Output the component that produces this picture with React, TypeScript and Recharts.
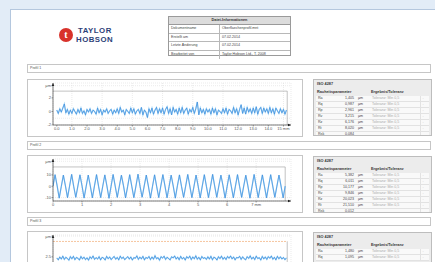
import React from 'react';
import {
  LineChart,
  Line,
  XAxis,
  YAxis,
  CartesianGrid,
  ReferenceLine,
  ReferenceDot
} from 'recharts';

// header table
const infoTitle = 'Datei-Informationen';
const infoLabels = ['Dokumentname', 'Erstellt am', 'Letzte Änderung', 'Bearbeitet von'];
const infoValues = ['Oberflaechenprofil.mnt', '07.02.2014', '07.02.2014', 'Taylor Hobson Ltd., T. 2008'];

const sectionNames = ['Profil 1', 'Profil 2', 'Profil 3'];

// roughness table
const tableTitle = 'ISO 4287';
const tableHead = ['Rauheitsparameter', 'Ergebnis/Toleranz'];
const params = ['Ra', 'Rq', 'Rp', 'Rv', 'Rz', 'Rt', 'Rsk'];
const units = ['µm', 'µm', 'µm', 'µm', 'µm', 'µm', ''];
const values1 = ['1,405', '0,987', '2,961', '3,215', '6,176', '8,020', '0,084'];
const values2 = ['5,382', '6,011', '10,177', '9,846', '20,023', '21,510', '0,012'];
const values3 = ['1,480', '1,095', '3,104', '2,870', '5,974', '7,412', '0,120'];
const tolerance = 'Toleranz: Min 0,5';

// profile 1 (mm, µm), sampled every 0.1 mm
const profile1 = [
  0.2, -0.3, 0.4, -0.1, 0.5, 1.1, -0.2, 0.3, -0.4, 0.2,
  -0.3, 0.4, 0.0, -0.4, 0.3, -0.2, 0.5, -0.3, 0.1, -0.5,
  0.3, -0.1, 0.4, -0.3, 0.2, 0.0, -0.4, 0.5, -0.2, 0.3,
  -0.5, 0.2, -0.1, 0.4, -0.3, 0.1, 0.3, -0.4, 0.2, -0.2,
  0.4, -0.3, 0.6, -0.1, 0.2, -0.5, 0.3, 0.0, -0.3, 0.5,
  -0.2, 0.4, -0.4, 0.1, 0.3, -0.3, 0.6, -0.5, 0.2, -0.1,
  -0.9, 0.4, -0.2, 0.5, -0.4, 0.2, 0.6, -0.3, 0.4, -0.2,
  0.5, -0.4, 0.3, 0.7, -0.3, 0.4, -0.5, 0.6, -0.1, 0.3,
  -0.4, 0.5, -0.2, 0.6, -0.3, 0.2, 0.5, -0.4, 0.3, -0.1,
  0.6, -0.3, 0.4, 1.4, -0.5, 0.5, -0.2, 0.3, -0.4, 0.4,
  -0.1, 0.3, -0.4, 0.5, -0.2, 0.4, -0.5, 0.2, 0.0, -0.3,
  0.4, -0.2, 0.5, -0.4, 0.3, 0.1, -0.3, 0.6, -0.2, 0.4,
  -0.5, 0.3, 1.0, -0.3, 0.5, -0.4, 0.6, -0.1, 0.4, -0.3,
  0.5, -0.2, 0.7, -0.4, 0.3, 0.6, -0.3, 0.5, -0.1, 0.4,
  -0.3, 0.6, -0.2, 0.4, -0.4, 0.5, 0.1, -0.3, 0.4, -0.2,
  0.3, -0.4, 0.2
];
const step1 = 0.1;

// profile 2, periodic surface, 4 samples per period
const profile2 = [
  0, 10.2, 0.4, -10.5, -0.2, 9.8, 0.3, -10.1, 0.1, 10.5, -0.3, -9.8,
  0.2, 10.1, 0.4, -10.4, -0.1, 9.9, 0.2, -10.2, 0.3, 10.3, -0.2, -10.0,
  0.0, 10.0, 0.3, -10.6, -0.2, 10.4, 0.1, -9.9, 0.2, 9.7, 0.4, -10.3,
  -0.3, 10.2, 0.0, -10.1, 0.1, 10.6, -0.2, -9.7, 0.3, 9.9, 0.2, -10.4,
  0.0, 10.1, -0.1, -10.0, 0.2, 10.3, 0.3, -10.2, -0.2, 9.8, 0.1, -10.5,
  0.4, 10.0, -0.3, -9.9, 0.1, 10.4, 0.2, -10.1, -0.1, 9.9, 0.3, -10.3,
  0.2, 10.2, -0.2, -10.0, 0.0, 10.5, 0.1, -9.8, 0.3, 9.8, 0.4, -10.4,
  -0.2, 10.1, 0.0, -10.2, 0.1, 10.3, -0.1, -9.9, 0.2, 9.7, 0.3, -10.5,
  -0.3, 10.4, 0.2, -10.0, 0.1, 10.0, -0.2, -10.2, 0.3, 10.2, 0.1, -9.8,
  0.0, 9.9, 0.2, -10.3, 0.1
];
const step2 = 8 / 112;

// profile 3
const profile3 = [
  1.8, 0.6, 2.4, 1.1, 2.9, 0.9, 2.2, 1.5, 0.4, 2.6,
  1.3, 2.8, 0.7, 2.1, 1.6, 0.5, 2.7, 1.2, 2.3, 0.8,
  1.9, 0.4, 2.5, 1.4, 3.0, 0.9, 2.0, 1.1, 2.6, 0.6,
  2.2, 1.7, 0.5, 2.8, 1.3, 2.4, 0.8, 1.9, 2.7, 1.0,
  2.1, 0.6, 2.9, 1.4, 2.3, 0.7, 1.8, 2.6, 1.1, 2.4,
  0.5, 2.0, 1.6, 3.1, 0.9, 2.3, 1.2, 2.8, 0.6, 2.1,
  1.5, 2.7, 0.8, 2.4, 1.0, 3.2, 1.3, 2.0, 0.4, 2.6,
  1.7, 2.9, 0.9, 2.2, 1.4, 0.6, 2.5, 1.8, 3.0, 1.1,
  2.3, 0.7, 2.8, 1.2, 2.1, 0.5, 2.6, 1.6, 2.9, 0.8,
  2.4, 1.3, 3.1, 1.0, 2.2, 0.6, 2.7, 1.5, 2.0, 0.9,
  2.5, 1.1, 2.8, 0.7, 2.3, 1.7, 0.5, 2.6, 1.4, 2.9,
  1.0, 2.2, 0.8, 2.7, 1.6, 3.0, 1.2, 2.4, 0.6, 2.1,
  1.8, 2.8, 0.9, 2.5, 1.3, 0.7, 2.6, 1.5, 3.1, 1.1,
  2.3, 0.8, 2.9, 1.4, 2.0, 0.5, 2.7, 1.2, 2.4, 0.9,
  2.6, 1.6, 3.0, 1.0, 2.2, 0.6, 2.8, 1.3, 2.5, 1.1,
  2.1, 0.7, 1.9
];
const step3 = 0.1;

const xTicks1 = [0, 1, 2, 3, 4, 5, 6, 7, 8, 9, 10, 11, 12, 13, 14, 15];
const yTicks1 = [-2, -1, 0, 1, 2, 3.8];
const xTicks2 = [0, 1, 2, 3, 4, 5, 6, 7];
const yTicks2 = [-10, 0, 10, 22];
const yTicks3 = [2.5, 12, 15.3];

const FONT = '"Liberation Sans", Arial, sans-serif';

const toRows = (vals: number[], step: number) =>
  vals.map((v, i) => ({ x: +(i * step).toFixed(3), y: v }));

type ProfileProps = {
  top: number;
  data: { x: number; y: number }[];
  xDomain: [number, number];
  yDomain: [number, number];
  xTicks: number[];
  yTicks: number[];
  xFmt: (v: number) => string;
  frameX: number;
  frameY: number;
  frameColor?: string;
  hideXLabels?: boolean;
};

function ProfileChart(p: ProfileProps) {
  const tickStyle = { fontSize: 4, fill: '#555', fontFamily: FONT };
  const unitTick = p.yTicks[p.yTicks.length - 1];
  return (
    <div
      style={{
        position: 'absolute',
        left: 27,
        top: p.top,
        width: 276,
        height: 58,
        border: '1px solid #c6c6c6',
        boxSizing: 'border-box',
        background: '#fff'
      }}
    >
      <LineChart
        width={274}
        height={56}
        data={p.data}
        margin={{ top: 3, right: 11, left: 1, bottom: 3 }}
      >
        <CartesianGrid stroke="#d6d6d6" strokeDasharray="1 1" strokeWidth={0.5} />
        <XAxis
          dataKey="x"
          type="number"
          domain={p.xDomain}
          ticks={p.xTicks}
          tickFormatter={p.xFmt}
          height={8}
          tick={p.hideXLabels ? false : tickStyle}
          tickSize={1.5}
          tickMargin={0.5}
          axisLine={{ stroke: '#222', strokeWidth: 0.6 }}
          tickLine={{ stroke: '#444', strokeWidth: 0.5 }}
          allowDataOverflow
        />
        <YAxis
          type="number"
          domain={p.yDomain}
          ticks={p.yTicks}
          tickFormatter={(v: number) => (v === unitTick ? 'µm' : String(v))}
          width={24}
          tick={tickStyle}
          tickSize={1.5}
          tickMargin={0.5}
          axisLine={{ stroke: '#222', strokeWidth: 0.6 }}
          tickLine={{ stroke: '#444', strokeWidth: 0.5 }}
          allowDataOverflow
        />
        <ReferenceLine
          segment={[{ x: p.xDomain[0], y: p.frameY }, { x: p.frameX, y: p.frameY }]}
          stroke={p.frameColor || '#9a9a9a'}
          strokeWidth={0.6}
          strokeDasharray={p.frameColor ? '2 1' : undefined}
        />
        <ReferenceLine
          segment={[{ x: p.frameX, y: p.yDomain[0] }, { x: p.frameX, y: p.frameY }]}
          stroke="#9a9a9a"
          strokeWidth={0.6}
        />
        <Line
          dataKey="y"
          stroke="#9fd2f5"
          strokeWidth={1.3}
          dot={false}
          isAnimationActive={false}
        />
        <Line
          dataKey="y"
          stroke="#2a7ed6"
          strokeWidth={0.55}
          dot={false}
          isAnimationActive={false}
        />
        <ReferenceDot
          x={p.xDomain[0]}
          y={p.yDomain[1]}
          ifOverflow="visible"
          shape={(s: any) => (
            <path
              d={`M${s.cx - 1.3},${s.cy + 3} L${s.cx},${s.cy} L${s.cx + 1.3},${s.cy + 3} Z`}
              fill="#222"
            />
          )}
        />
        <ReferenceDot
          x={p.xDomain[1]}
          y={p.yDomain[0]}
          ifOverflow="visible"
          shape={(s: any) => (
            <path
              d={`M${s.cx - 3},${s.cy - 1.3} L${s.cx},${s.cy} L${s.cx - 3},${s.cy + 1.3} Z`}
              fill="#222"
            />
          )}
        />
      </LineChart>
    </div>
  );
}

function ResultTable({ top, values, rows }: { top: number; values: string[]; rows: number }) {
  const cell: React.CSSProperties = {
    fontSize: 3.6,
    lineHeight: '5px',
    height: 5,
    padding: '0 2px',
    borderBottom: '0.5px solid #e2e2e2',
    whiteSpace: 'nowrap',
    color: '#444'
  };
  return (
    <div
      style={{
        position: 'absolute',
        left: 313,
        top,
        width: 119,
        height: 57,
        border: '1px solid #bdbdbd',
        boxSizing: 'border-box',
        background: '#ececec',
        fontFamily: FONT,
        overflow: 'hidden'
      }}
    >
      <div style={{ fontSize: 3.8, fontWeight: 700, color: '#333', padding: '2px 3px', height: 5, lineHeight: '5px' }}>
        {tableTitle}
      </div>
      <div style={{ display: 'flex', fontSize: 3.8, fontWeight: 700, color: '#333', padding: '0 3px', height: 7, lineHeight: '7px' }}>
        <span style={{ width: 54 }}>{tableHead[0]}</span>
        <span>{tableHead[1]}</span>
      </div>
      <table style={{ borderCollapse: 'collapse', width: 113, marginLeft: 2, background: '#f9f9f9' }}>
        <tbody>
          {params.slice(0, rows).map((pr, i) => (
            <tr key={pr}>
              <td style={{ ...cell, width: 18 }}>{pr}</td>
              <td style={{ ...cell, width: 14, textAlign: 'right' }}>{values[i]}</td>
              <td style={{ ...cell, width: 10 }}>{units[i]}</td>
              <td style={{ ...cell, color: '#aaa' }}>{i < 6 ? tolerance : ''}</td>
              <td style={{ ...cell, color: '#bbb', borderLeft: '0.5px solid #e2e2e2' }}>{i < 6 ? '-' : ''}</td>
            </tr>
          ))}
        </tbody>
      </table>
    </div>
  );
}

function SectionLabel({ top, text }: { top: number; text: string }) {
  return (
    <div
      style={{
        position: 'absolute',
        left: 27,
        top,
        width: 404,
        height: 9,
        border: '1px solid #c6c6c6',
        boxSizing: 'border-box',
        background: '#fff',
        fontFamily: FONT,
        fontSize: 3.6,
        lineHeight: '7px',
        paddingLeft: 2,
        color: '#555'
      }}
    >
      {text}
    </div>
  );
}

export default function App() {
  const d1 = toRows(profile1, step1);
  const d2 = toRows(profile2, step2);
  const d3 = toRows(profile3, step3);
  const chartTops = [79, 155, 231];
  const sectionTops = [64, 141, 217];
  const tableTops = [79, 156, 232];
  return (
    <div
      style={{
        position: 'fixed',
        left: 0,
        top: 0,
        width: 435,
        height: 262,
        background: '#e2ecf7',
        overflow: 'hidden',
        fontFamily: FONT
      }}
    >
      <div
        style={{
          position: 'absolute',
          left: 10,
          top: 9,
          width: 440,
          height: 270,
          background: '#fff',
          border: '1px solid #b4c7de',
          boxSizing: 'border-box'
        }}
      />
      {/* logo */}
      <div
        style={{
          position: 'absolute',
          left: 59,
          top: 28,
          width: 14,
          height: 14,
          borderRadius: '50%',
          background: '#d8322b',
          color: '#fff',
          fontSize: 10,
          fontWeight: 700,
          lineHeight: '14px',
          textAlign: 'center',
          fontFamily: 'serif'
        }}
      >
        t
      </div>
      <div
        style={{
          position: 'absolute',
          left: 76,
          top: 26,
          color: '#2d3f78',
          fontSize: 7.8,
          fontWeight: 700,
          lineHeight: '9px',
          letterSpacing: 0.5
        }}
      >
        <div style={{ paddingLeft: 2 }}>TAYLOR</div>
        <div>HOBSON</div>
      </div>
      {/* file info table */}
      <div
        style={{
          position: 'absolute',
          left: 168,
          top: 16,
          width: 123,
          height: 40,
          border: '1px solid #9a9a9a',
          boxSizing: 'border-box',
          background: '#fff'
        }}
      >
        <div
          style={{
            height: 7,
            lineHeight: '7px',
            background: '#dcdcdc',
            fontSize: 3.8,
            fontWeight: 700,
            textAlign: 'center',
            color: '#333',
            borderBottom: '0.5px solid #9a9a9a'
          }}
        >
          {infoTitle}
        </div>
        {infoLabels.map((l, i) => (
          <div
            key={l}
            style={{
              display: 'flex',
              height: 7.7,
              lineHeight: '7.7px',
              fontSize: 3.6,
              color: '#444',
              borderBottom: i < 3 ? '0.5px solid #b8b8b8' : undefined
            }}
          >
            <span style={{ width: 48, paddingLeft: 2, borderRight: '0.5px solid #b8b8b8' }}>{l}</span>
            <span style={{ paddingLeft: 2 }}>{infoValues[i]}</span>
          </div>
        ))}
      </div>

      {sectionNames.map((s, i) => (
        <SectionLabel key={s} top={sectionTops[i]} text={s} />
      ))}

      <ProfileChart
        top={chartTops[0]}
        data={d1}
        xDomain={[-0.25, 15.5]}
        yDomain={[-2, 4.2]}
        xTicks={xTicks1}
        yTicks={yTicks1}
        xFmt={(v) => (v === 15 ? '15 mm' : v.toFixed(1))}
        frameX={15.25}
        frameY={3}
      />
      <ProfileChart
        top={chartTops[1]}
        data={d2}
        xDomain={[0, 8.2]}
        yDomain={[-13, 24]}
        xTicks={xTicks2}
        yTicks={yTicks2}
        xFmt={(v) => (v === 7 ? '7 mm' : String(v))}
        frameX={8}
        frameY={17}
      />
      <ProfileChart
        top={chartTops[2]}
        data={d3}
        xDomain={[-0.25, 15.5]}
        yDomain={[-10, 16]}
        xTicks={xTicks1}
        yTicks={yTicks3}
        xFmt={(v) => (v === 15 ? '15 mm' : v.toFixed(1))}
        frameX={15.25}
        frameY={12}
        frameColor="#f0a060"
        hideXLabels
      />

      <ResultTable top={tableTops[0]} values={values1} rows={7} />
      <ResultTable top={tableTops[1]} values={values2} rows={7} />
      <ResultTable top={tableTops[2]} values={values3} rows={2} />
    </div>
  );
}
